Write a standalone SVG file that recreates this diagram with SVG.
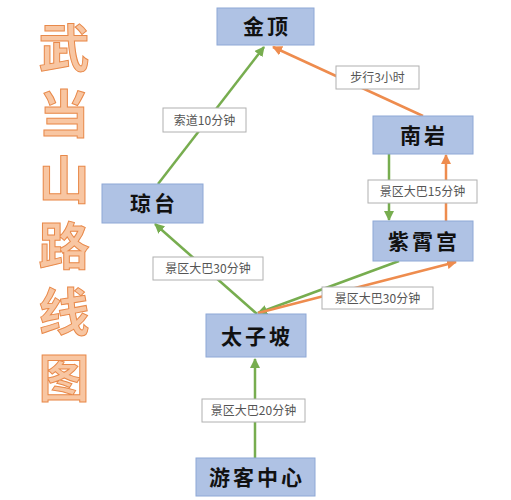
<svg xmlns="http://www.w3.org/2000/svg" width="511" height="500" viewBox="0 0 511 500">
<defs>
<marker id="ag" viewBox="0 0 10 10" refX="9" refY="5" markerWidth="4" markerHeight="4" orient="auto"><path d="M0,0 L10,5 L0,10 z" fill="#77AD4F"/></marker>
<marker id="ao" viewBox="0 0 10 10" refX="9" refY="5" markerWidth="4" markerHeight="4" orient="auto"><path d="M0,0 L10,5 L0,10 z" fill="#EE8C4E"/></marker>
</defs>
<style>
.node rect{fill:#AFC2E4;stroke:#8EA8D6;stroke-width:1}
.node text{font-family:"Noto Sans CJK SC","Noto Sans CJK JP",sans-serif;font-size:21px;font-weight:bold;fill:#111;text-anchor:middle;letter-spacing:3px}
.g{stroke:#77AD4F;stroke-width:2.5;fill:none;marker-end:url(#ag)}
.o{stroke:#EE8C4E;stroke-width:2.5;fill:none;marker-end:url(#ao)}
.lbl rect{fill:#fff;stroke:#B0B0B0;stroke-width:1}
.lbl text{font-family:"Noto Sans CJK SC","Noto Sans CJK JP",sans-serif;font-size:12px;fill:#555;text-anchor:middle}
.title{font-family:"Noto Sans CJK SC","Noto Sans CJK JP",sans-serif;font-size:51px;font-weight:bold;fill:#F8C6A2;stroke:#E8894A;stroke-width:1;writing-mode:vertical-rl;letter-spacing:15px}
</style>
<rect width="511" height="500" fill="#fff"/>
<g id="title">
<text class="title" x="64" y="22">武当山路线图</text>
</g>
<g id="connectors">
<line class="g" x1="158" y1="184" x2="264" y2="47"/>
<line class="o" x1="423" y1="116" x2="273" y2="47"/>
<line class="g" x1="389" y1="154" x2="389" y2="220"/>
<line class="o" x1="446" y1="221" x2="446" y2="155"/>
<line class="g" x1="399" y1="261" x2="258" y2="313"/>
<line class="o" x1="258" y1="313" x2="456" y2="262"/>
<line class="g" x1="257" y1="314" x2="155" y2="224"/>
<line class="g" x1="255" y1="458" x2="255" y2="359"/>
</g>
<g id="labels">
<g class="lbl"><rect x="336" y="66" width="83" height="23"/><text x="377.5" y="82">步行3小时</text></g>
<g class="lbl"><rect x="163" y="108" width="83" height="24"/><text x="204.5" y="124.5">索道10分钟</text></g>
<g class="lbl"><rect x="368" y="180" width="109" height="23"/><text x="422.5" y="196">景区大巴15分钟</text></g>
<g class="lbl"><rect x="153" y="257" width="110" height="23"/><text x="208" y="273">景区大巴30分钟</text></g>
<g class="lbl"><rect x="322" y="287" width="111" height="22"/><text x="377.5" y="302.5">景区大巴30分钟</text></g>
<g class="lbl"><rect x="202" y="399" width="103" height="23"/><text x="253.5" y="415">景区大巴20分钟</text></g>
</g>
<g id="jinding" class="node"><rect x="217" y="8" width="97" height="37"/><text x="267" y="34">金顶</text></g>
<g id="nanyan" class="node"><rect x="373" y="116" width="100" height="38"/><text x="424" y="143">南岩</text></g>
<g id="qiongtai" class="node"><rect x="102" y="184" width="101" height="39"/><text x="154" y="211">琼台</text></g>
<g id="zixiaogong" class="node"><rect x="373" y="221" width="100" height="40"/><text x="424" y="249">紫霄宫</text></g>
<g id="taizipo" class="node"><rect x="206" y="314" width="100" height="43"/><text x="257" y="344">太子坡</text></g>
<g id="youke" class="node"><rect x="196" y="458" width="119" height="38"/><text x="257" y="485">游客中心</text></g>
</svg>
